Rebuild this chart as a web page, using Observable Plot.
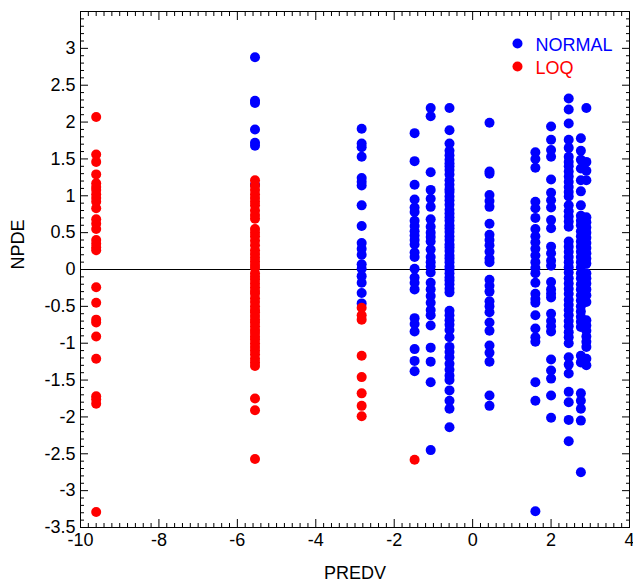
<!DOCTYPE html>
<html><head><meta charset="utf-8">
<script src="https://cdn.jsdelivr.net/npm/d3@7"></script>
<script src="https://cdn.jsdelivr.net/npm/@observablehq/plot@0.6"></script>
<style>body{margin:0;background:#fff}</style>
</head><body><div id="chart"></div>
<script>
// ---- data ----
const xTickLabels = [-10, -8, -6, -4, -2, 0, 2, 4];
const yTickLabels = [-3.5, -3, -2.5, -2, -1.5, -1, -0.5, 0, 0.5, 1, 1.5, 2, 2.5, 3];

const loqCols = [-9.6, -5.55, -2.83, -1.48];
const loqVals = [
  [2.07, 1.56, 1.46, 1.29, 1.17, 1.12, 1.08, 1.02, 0.97, 0.92, 0.83, 0.68, 0.62, 0.55, 0.40, 0.35, 0.30, 0.26,
   -0.24, -0.45, -0.68, -0.72, -0.91, -1.21, -1.72, -1.76, -1.82, -3.29],
  [1.21, 1.14, 1.08, 1.02, 0.97, 0.92, 0.87, 0.80, 0.74, 0.69, 0.55, 0.50, 0.45, 0.39, 0.33, 0.26, 0.21, 0.16,
   0.11, 0.06, 0.02, -0.05, -0.10, -0.14, -0.19, -0.24, -0.29, -0.33, -0.39, -0.44, -0.50, -0.55, -0.58, -0.63,
   -0.68, -0.72, -0.77, -0.82, -0.86, -0.91, -0.95, -1.00, -1.05, -1.10, -1.15, -1.21, -1.26, -1.31, -1.75, -1.91, -2.57],
  [-0.52, -0.62, -0.68, -1.17, -1.46, -1.68, -1.85, -1.99],
  [-2.58]
];

const normalCols = [-5.55, -2.83, -1.48, -1.07, -0.59, 0.43, 1.6, 2.0, 2.45, 2.76, 2.9];
const normalVals = [
  [2.88, 2.29, 2.26, 1.90, 1.72, 1.68, 1.15],
  [1.91, 1.71, 1.66, 1.53, 1.24, 1.19, 1.14, 0.87, 0.59, 0.36, 0.28, 0.20, 0.07, 0.01, -0.09, -0.18, -0.32, -0.46],
  [1.85, 1.47, 1.15, 0.95, 0.84, 0.78, 0.66, 0.59, 0.52, 0.46, 0.40, 0.34, 0.23, 0.17, 0.01, -0.11, -0.18, -0.27,
   -0.66, -0.74, -0.84, -1.08, -1.24, -1.38],
  [2.19, 2.08, 1.32, 1.08, 0.96, 0.85, 0.68, 0.58, 0.50, 0.44, 0.38, 0.27, 0.17, 0.10, 0.04, -0.04, -0.18, -0.27,
   -0.36, -0.45, -0.55, -0.62, -0.76, -1.06, -1.25, -1.53, -2.45],
  [2.19, 1.89, 1.71, 1.61, 1.55, 1.49, 1.44, 1.40, 1.35, 1.29, 1.21, 1.15, 1.09, 1.05, 0.99, 0.94, 0.88, 0.81,
   0.76, 0.71, 0.66, 0.60, 0.56, 0.51, 0.45, 0.40, 0.34, 0.30, 0.25, 0.19, 0.15, 0.10, 0.04, 0.00, -0.05, -0.11,
   -0.15, -0.20, -0.26, -0.31, -0.56, -0.62, -0.69, -0.75, -0.82, -0.92, -1.05, -1.12, -1.19, -1.28, -1.36, -1.44,
   -1.50, -1.64, -1.78, -1.89, -2.14],
  [1.99, 1.33, 1.30, 1.01, 0.93, 0.85, 0.62, 0.47, 0.40, 0.33, 0.24, 0.15, 0.10, -0.14, -0.22, -0.30, -0.43, -0.50,
   -0.58, -0.72, -0.83, -1.03, -1.13, -1.25, -1.71, -1.85],
  [1.59, 1.50, 1.38, 0.92, 0.83, 0.70, 0.55, 0.45, 0.37, 0.28, 0.19, 0.10, 0.02, -0.05, -0.18, -0.33, -0.40, -0.45,
   -0.62, -0.80, -0.92, -0.98, -1.53, -1.78, -3.28],
  [1.94, 1.76, 1.62, 1.53, 1.22, 1.04, 0.94, 0.84, 0.67, 0.56, 0.31, 0.22, 0.12, 0.05, -0.17, -0.27, -0.33, -0.38,
   -0.60, -0.70, -0.77, -0.84, -1.22, -1.37, -1.48, -1.71, -2.01],
  [2.32, 2.17, 1.98, 1.76, 1.65, 1.53, 1.46, 1.40, 1.33, 1.26, 1.19, 1.12, 1.05, 0.99, 0.87, 0.79, 0.72, 0.65,
   0.58, 0.38, 0.31, 0.24, 0.17, 0.10, 0.03, -0.04, -0.12, -0.19, -0.26, -0.33, -0.41, -0.48, -0.55, -0.62,
   -0.70, -0.77, -0.85, -0.92, -1.00, -1.19, -1.29, -1.41, -1.66, -1.80, -2.04, -2.33],
  [1.78, 1.61, 1.49, 1.37, 1.21, 1.06, 0.87, 0.73, 0.66, 0.60, 0.52, 0.45, 0.38, 0.31, 0.24, 0.17, 0.10, 0.03,
   -0.05, -0.12, -0.20, -0.27, -0.35, -0.42, -0.50, -0.57, -0.64, -0.71, -0.78, -1.17, -1.26, -1.68, -1.78,
   -1.89, -2.05, -2.75],
  [2.19, 1.46, 1.34, 1.21, 0.71, 0.64, 0.57, 0.50, 0.43, 0.36, 0.29, 0.22, 0.15, 0.08, -0.05, -0.12, -0.19,
   -0.27, -0.35, -0.44, -0.69, -0.76, -0.83, -0.91, -0.98, -1.05, -1.21, -1.30]
];

const seriesNames = ["NORMAL", "LOQ"];
const seriesColors = ["blue", "red"];

// ---- build tables ----
const flatten = (cols, vals) => cols.flatMap((x, i) => vals[i].map(y => ({x, y})));
const normal = flatten(normalCols, normalVals);
const loq = flatten(loqCols, loqVals);

const xMinor = d3.range(-50, 21).map(i => i / 5).filter(v => Math.abs(v / 2 - Math.round(v / 2)) > 1e-6);
const yMinor = d3.range(-35, 36).map(i => i / 10).filter(v => Math.abs(v * 2 - Math.round(v * 2)) > 1e-6);
const yMajorAll = d3.range(-7, 8).map(i => i / 2);

const font = "'Liberation Sans', Arial, sans-serif";
const FS = 18;
const blank = () => "";

const plot = Plot.plot({
  width: 633, height: 583,
  marginLeft: 80, marginRight: 4, marginTop: 11, marginBottom: 56,
  style: {fontFamily: font, fontSize: FS + "px", background: "white", color: "black"},
  x: {domain: [-10, 4]},
  y: {domain: [-3.5, 3.5]},
  marks: [
    Plot.ruleY([0], {stroke: "black", strokeWidth: 1}),
    Plot.dot(normal, {x: "x", y: "y", r: 5, fill: seriesColors[0]}),
    Plot.dot(loq, {x: "x", y: "y", r: 5, fill: seriesColors[1]}),
    // tick labels
    Plot.axisX(xTickLabels, {tickSize: 0, tickPadding: 6, tickFormat: d => String(d), label: null, fontSize: FS}),
    Plot.axisY(yTickLabels, {tickSize: 0, tickPadding: 5, tickFormat: d => String(d), label: null, fontSize: FS}),
    // inward ticks, all four sides
    Plot.axisX(xTickLabels, {anchor: "bottom", tickSize: -8, tickFormat: blank, label: null}),
    Plot.axisX(xMinor, {anchor: "bottom", tickSize: -4, tickFormat: blank, label: null}),
    Plot.axisX(xTickLabels, {anchor: "top", tickSize: -8, tickFormat: blank, label: null}),
    Plot.axisX(xMinor, {anchor: "top", tickSize: -4, tickFormat: blank, label: null}),
    Plot.axisY(yMajorAll, {anchor: "left", tickSize: -8, tickFormat: blank, label: null}),
    Plot.axisY(yMinor, {anchor: "left", tickSize: -4, tickFormat: blank, label: null}),
    Plot.axisY(yMajorAll, {anchor: "right", tickSize: -8, tickFormat: blank, label: null}),
    Plot.axisY(yMinor, {anchor: "right", tickSize: -4, tickFormat: blank, label: null}),
    Plot.frame({stroke: "black", strokeWidth: 1}),
    // axis titles
    Plot.text(["PREDV"], {frameAnchor: "bottom", dy: 46, fontSize: FS, fill: "black", lineAnchor: "middle"}),
    Plot.text(["NPDE"], {frameAnchor: "left", dx: -62, rotate: -90, fontSize: FS, fill: "black", lineAnchor: "middle"}),
    // legend
    Plot.dot([seriesNames[0]], {frameAnchor: "top-right", dx: -112, dy: 32, r: 5, fill: seriesColors[0]}),
    Plot.dot([seriesNames[1]], {frameAnchor: "top-right", dx: -112, dy: 55, r: 5, fill: seriesColors[1]}),
    Plot.text([seriesNames[0]], {frameAnchor: "top-right", dx: -94, dy: 34, text: d => d, textAnchor: "start", lineAnchor: "middle", fontSize: FS, fill: seriesColors[0]}),
    Plot.text([seriesNames[1]], {frameAnchor: "top-right", dx: -94, dy: 57, text: d => d, textAnchor: "start", lineAnchor: "middle", fontSize: FS, fill: seriesColors[1]})
  ]
});
document.getElementById("chart").appendChild(plot);
</script>
</body></html>
